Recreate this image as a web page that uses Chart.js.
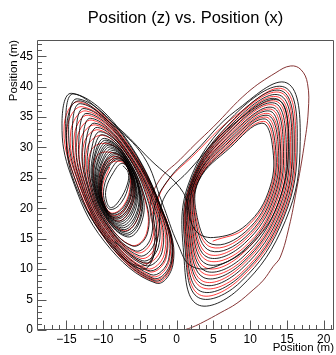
<!DOCTYPE html>
<html><head><meta charset="utf-8">
<script src="https://cdn.jsdelivr.net/npm/chart.js@4.4.0/dist/chart.umd.min.js"></script>
<style>html,body{margin:0;padding:0;background:#fff;}canvas{display:block;}</style>
</head><body>
<canvas id="c" width="336" height="355"></canvas>
<script>
// ---- tick labels ----
const xTickValues = [-15, -10, -5, 0, 5, 10, 15, 20];
const zTickValues = [0, 5, 10, 15, 20, 25, 30, 35, 40, 45];
const titleText = 'Position (z) vs. Position (x)';
const axisLabel = 'Position (m)';

// ---- series values: [x, z] ----
// initial transient (shared by both runs)
const transient = [[1.0,0.0],[2.2,0.5],[3.6,1.3],[5.9,2.8],[8.2,4.4],[10.4,6.6],[11.8,8.2],[13.1,10.4],[14.1,12.0],[15.3,17.0],[16.3,23.0],[17.3,30.0],[17.9,36.0],[17.8,40.5],[16.9,42.8],[15.5,43.4],[13.5,42.3],[9.6,39.0],[5.0,33.4],[2.5,30.5],[0.45,28.0],[-2.3,24.7],[-3.6,20.5],[-3.0,14.5],[-4.3,10.6],[-8.0,12.5],[-12.0,19.5]];

// black run: left wing loops (spiralling out from the hole)
const blackLeft = [
[-7.3,27.0],[-6.6,25.9],[-6.7,24.0],[-7.8,21.3],[-8.9,20.1],[-9.5,21.0],[-9.6,23.2],[-8.6,25.9],
[-7.45,27.4],[-6.5,26.2],[-6.5,24.0],[-7.5,21.0],[-8.9,19.8],[-9.7,20.8],[-9.9,23.4],[-8.9,26.4],
[-7.7,27.9],[-6.6,26.5],[-6.2,24.0],[-7.0,20.6],[-8.7,19.1],[-9.8,20.5],[-10.2,23.6],[-9.2,26.9],
[-7.8,28.1],[-6.7,26.7],[-6.1,23.8],[-6.9,20.4],[-8.5,18.9],[-9.8,20.4],[-10.3,23.6],[-9.3,27.0],
[-7.9,28.3],[-6.7,26.8],[-6.0,23.7],[-6.8,20.2],[-8.4,18.6],[-9.8,20.3],[-10.3,23.7],[-9.4,27.2],
[-8.1,28.5],[-6.7,26.9],[-5.9,23.6],[-6.6,20.0],[-8.3,18.4],[-9.8,20.2],[-10.4,23.7],[-9.6,27.3],
[-8.2,28.8],[-6.7,27.0],[-5.8,23.5],[-6.5,19.8],[-8.2,18.2],[-9.8,20.0],[-10.5,23.7],[-9.7,27.5],
[-8.3,29.0],[-6.7,27.2],[-5.7,23.3],[-6.4,19.6],[-8.0,17.9],[-9.8,19.9],[-10.6,23.8],[-9.8,27.6],
[-8.5,29.2],[-6.7,27.3],[-5.6,23.2],[-6.2,19.4],[-7.9,17.7],[-9.8,19.8],[-10.7,23.8],[-10.0,27.8],
[-8.6,29.5],[-6.8,27.5],[-5.5,23.0],[-6.1,19.1],[-7.8,17.4],[-9.7,19.6],[-10.8,23.9],[-10.1,28.0],
[-8.8,29.8],[-6.8,27.6],[-5.4,22.9],[-5.9,18.9],[-7.6,17.1],[-9.7,19.4],[-10.9,23.9],[-10.3,28.2],
[-9.0,30.1],[-6.8,27.8],[-5.2,22.7],[-5.7,18.6],[-7.5,16.8],[-9.7,19.3],[-11.0,24.0],[-10.5,28.3],
[-9.1,30.4],[-6.8,27.9],[-5.1,22.6],[-5.6,18.3],[-7.3,16.5],[-9.7,19.1],[-11.1,24.0],[-10.6,28.5],
[-9.3,30.6],[-6.9,28.1],[-5.0,22.4],[-5.4,18.1],[-7.2,16.2],[-9.7,18.9],[-11.2,24.1],[-10.8,28.7],
[-9.4,30.9],[-6.9,28.2],[-4.9,22.3],[-5.2,17.8],[-7.0,15.9],[-9.7,18.8],[-11.3,24.1],[-11.0,28.9],
[-9.6,31.2],[-6.9,28.4],[-4.8,22.1],[-5.1,17.6],[-6.9,15.6],[-9.7,18.6],[-11.4,24.2],[-11.1,29.1],
[-9.8,31.5],[-6.9,28.5],[-4.6,22.0],[-4.9,17.3],[-6.7,15.3],[-9.7,18.5],[-11.5,24.2],[-11.3,29.3],
[-10.1,32.1],[-7.0,28.8],[-4.2,21.2],[-4.0,15.8],[-6.0,13.8],[-9.7,18.1],[-11.7,24.3],[-11.6,29.6],
[-10.4,32.6],[-7.0,29.2],[-3.8,20.8],[-3.5,15.2],[-5.6,13.0],[-9.7,17.8],[-11.9,24.4],[-12.0,30.0],
[-10.8,33.3],[-7.1,29.5],[-3.3,20.3],[-3.0,14.4],[-5.1,12.2],[-9.6,17.4],[-12.2,24.5],[-12.4,30.4],
[-11.2,34.0],[-7.1,29.9],[-2.9,19.9],[-2.5,13.6],[-4.7,11.4],[-9.6,17.0],[-12.4,24.7],[-12.8,30.9],
[-11.7,34.8],[-7.2,30.3],[-2.5,19.4],[-2.0,12.8],[-4.3,10.6],[-9.6,16.6],[-12.7,24.8],[-13.3,31.4],
[-12.2,35.6],[-7.2,30.8],[-2.1,19.0],[-1.5,12.1],[-3.9,9.8],[-9.6,16.1],[-13.0,24.9],[-13.7,31.9],
[-12.6,36.4],[-7.3,31.2],[-1.8,18.7],[-1.1,11.6],[-3.5,9.1],[-9.6,15.7],[-13.3,25.1],[-14.2,32.4],
[-13.1,37.2],[-7.4,31.6],[-1.6,18.4],[-0.8,11.2],[-3.2,8.5],[-9.5,15.2],[-13.6,25.2],[-14.7,33.0],
[-13.5,38.0],[-7.4,32.1],[-1.5,18.2],[-0.7,11.0],[-3.0,8.1],[-9.6,14.8],[-14.0,25.4],[-15.1,33.5],
[-14.0,38.8],[-7.5,32.5],[-1.4,18.0],[-0.5,10.8],[-2.8,7.7],[-9.8,14.5],[-14.4,25.5],[-15.6,34.0]];
// black run: crossing from the left wing into the right wing
const blackCrossLR = [[-14.3,38.9],[-8.1,33.4],[-3.6,28.0],[0.9,22.6],[2.4,16.6]];
// black run: right wing loops
const blackRight = [
[5.0,15.2],[9.5,17.3],[12.7,23.5],[13.0,30.5],[11.6,34.0],[7.3,30.0],[3.0,24.5],[2.8,18.5],
[4.8,14.1],[9.4,16.2],[12.9,23.0],[13.4,30.5],[11.9,34.7],[7.4,30.6],[2.9,24.4],[2.6,17.8],
[4.6,13.0],[9.3,15.2],[13.1,22.4],[13.8,30.6],[12.3,35.3],[7.4,31.2],[2.7,24.4],[2.4,17.0],
[4.3,11.9],[9.2,14.2],[13.3,21.9],[14.1,30.6],[12.6,36.0],[7.5,31.8],[2.5,24.4],[2.2,16.2],
[4.1,10.8],[9.1,13.1],[13.5,21.3],[14.5,30.7],[13.0,36.6],[7.6,32.4],[2.4,24.3],[2.0,15.5],
[3.9,9.7],[9.0,12.0],[13.8,20.8],[14.9,30.8],[13.3,37.3],[7.6,33.0],[2.2,24.2],[1.8,14.8],
[3.7,8.6],[8.9,11.0],[14.0,20.2],[15.3,30.8],[13.6,38.0],[7.7,33.6],[2.1,24.2],[1.6,14.0],
[3.5,7.5],[8.8,10.0],[14.2,19.6],[15.7,30.8],[14.0,38.6],[7.8,34.2],[2.0,24.2],[1.4,13.2],
[3.2,6.4],[8.7,8.9],[14.4,19.1],[16.0,30.9],[14.3,39.3],[7.9,34.8],[1.8,24.1],[1.2,12.5],
[3.0,5.3],[8.6,7.8],[14.6,18.6],[16.4,31.0],[14.7,39.9],[7.9,35.4],[1.6,24.0],[1.0,11.8],
[2.8,4.2],[8.5,6.8],[14.8,18.0],[16.8,31.0],[15.0,40.6],[8.0,36.0]];
// black run: crossings back and forth through the middle
const blackCrossRL = [[2.6,29.4],[-1.2,24.6],[-3.1,19.8],[-2.8,13.8],[-4.6,10.0],[-9.3,14.6],[-13.5,23.0],[-15.0,31.5],[-13.6,37.6],[-9.0,34.0],[-4.5,28.5],
[-2.0,21.0],[0.2,14.0],[2.0,10.5],[5.5,10.5],[10.5,14.5],[14.0,21.5],[15.2,31.0],[13.8,37.8],[7.7,33.8],[1.5,26.0],[-1.8,21.5],[-2.6,15.0],[-4.0,11.0],[-8.5,14.5]];

// red run: right wing loops
const redRight = [
[4.9,14.6],[9.4,16.8],[12.8,23.2],[13.2,30.5],[11.8,34.3],[7.3,30.3],[2.9,24.5],[2.7,18.1],
[4.7,13.6],[9.3,15.7],[13.0,22.7],[13.6,30.6],[12.1,35.0],[7.4,30.9],[2.8,24.4],[2.5,17.4],
[4.4,12.4],[9.2,14.7],[13.2,22.1],[14.0,30.6],[12.4,35.6],[7.5,31.5],[2.6,24.4],[2.3,16.6],
[4.2,11.4],[9.2,13.6],[13.4,21.6],[14.3,30.7],[12.8,36.3],[7.5,32.1],[2.5,24.3],[2.1,15.9],
[4.0,10.2],[9.0,12.6],[13.6,21.0],[14.7,30.7],[13.1,37.0],[7.6,32.7],[2.3,24.3],[1.9,15.1],
[3.8,9.2],[9.0,11.5],[13.9,20.5],[15.1,30.8],[13.5,37.6],[7.7,33.3],[2.2,24.2],[1.7,14.4],
[3.6,8.0],[8.8,10.5],[14.1,19.9],[15.5,30.8],[13.8,38.3],[7.8,33.9],[2.0,24.2],[1.5,13.6],
[3.4,7.0],[8.8,9.4],[14.3,19.4],[15.8,30.9],[14.2,39.0],[7.8,34.5],[1.9,24.1],[1.3,12.9],
[3.1,5.8],[8.6,8.4],[14.5,18.8],[16.2,30.9],[14.5,39.6],[7.9,35.1]];
// red run: crossing into the left wing
const redCross = [[2.2,28.6],[-1.4,24.2],[-2.6,20.4]];
// red run: left wing loops (winding in towards the hole)
const redLeft = [
[-1.4,18.1],[-0.6,10.9],[-2.9,7.9],[-9.5,14.6],[-14.0,25.4],[-15.3,33.7],
[-13.3,37.5],[-7.4,31.8],[-1.5,18.3],[-0.7,11.1],[-3.1,8.3],[-9.5,15.0],[-13.7,25.3],[-14.9,33.2],
[-12.8,36.7],[-7.3,31.4],[-1.7,18.5],[-1.0,11.4],[-3.4,8.8],[-9.6,15.5],[-13.4,25.1],[-14.4,32.7],
[-12.3,36.0],[-7.3,31.0],[-2.0,18.9],[-1.4,11.9],[-3.8,9.6],[-9.6,15.9],[-13.2,25.0],[-13.9,32.2],
[-12.0,35.3],[-7.2,30.6],[-2.3,19.2],[-1.7,12.4],[-4.1,10.1],[-9.6,16.3],[-12.9,24.9],[-13.5,31.7],
[-11.5,34.5],[-7.2,30.1],[-2.7,19.6],[-2.2,13.2],[-4.5,11.0],[-9.6,16.8],[-12.6,24.7],[-13.1,31.2],
[-11.0,33.7],[-7.1,29.7],[-3.1,20.1],[-2.8,14.0],[-4.9,11.8],[-9.6,17.2],[-12.3,24.6],[-12.6,30.7],
[-10.6,32.9],[-7.0,29.3],[-3.6,20.6],[-3.3,14.9],[-5.4,12.7],[-9.7,17.7],[-12.0,24.5],[-12.1,30.2],
[-10.0,32.0],[-7.0,28.8],[-4.3,21.3],[-4.1,15.9],[-6.1,13.9],[-9.7,18.2],[-11.7,24.3],[-11.6,29.6],
[-9.2,30.6],[-6.9,28.0],[-5.0,22.5],[-5.4,18.1],[-7.2,16.3],[-9.7,19.0],[-11.2,24.1],[-10.8,28.7],
[-8.3,29.0],[-6.7,27.2],[-5.7,23.3],[-6.4,19.6],[-8.0,17.9],[-9.8,19.9],[-10.6,23.8],[-9.8,27.6],
[-8.1,28.5],[-6.7,26.9],[-5.9,23.6],[-6.6,20.0],[-8.3,18.4],[-9.8,20.2],[-10.4,23.7],[-9.6,27.3],
[-7.9,28.2],[-6.7,26.7],[-6.1,23.8],[-6.8,20.3],[-8.5,18.8],[-9.8,20.3],[-10.3,23.6],[-9.4,27.1],
[-7.6,27.7],[-6.6,26.5],[-6.3,24.0],[-7.1,20.7],[-8.7,19.2],[-9.8,20.6],[-10.1,23.6],[-9.1,26.8]];

// ---- build the library's data from the arrays ----
const toPts = a => a.map(p => ({x: p[0], y: p[1]}));
const blackPath = [].concat(blackLeft, blackCrossLR, blackRight, blackCrossRL);
const redPath = [].concat(redRight, redCross, redLeft);

const FONT = "'Liberation Sans', Arial, Helvetica, sans-serif";
Chart.defaults.font.family = FONT;
Chart.defaults.color = '#000';

const lineDs = (pts, color, w) => ({data: toPts(pts), borderColor: color, borderWidth: w, showLine: true,
  pointRadius: 0, pointHoverRadius: 0, tension: 0.4, fill: false});

const fmt = v => (v < 0 ? '\u2212' + Math.abs(v) : String(v));

const framePlugin = {
  id: 'rootFrame',
  afterDraw(chart) {
    const {ctx, chartArea: a, scales: {x, y}} = chart;
    const L = Math.round(a.left) + 0.5, R = Math.round(a.right) - 0.5;
    const T = Math.round(a.top) + 0.5, B = Math.round(a.bottom) - 0.5;
    ctx.save();
    ctx.strokeStyle = '#555';
    ctx.lineWidth = 1;
    ctx.beginPath();
    ctx.rect(L, T, R - L, B - T);
    ctx.stroke();
    ctx.beginPath();
    for (let v = Math.ceil(x.min); v <= Math.floor(x.max); v++) {
      const px = Math.round(x.getPixelForValue(v)) + 0.5;
      const len = (v % 5 === 0) ? 9 : 4.5;
      ctx.moveTo(px, B); ctx.lineTo(px, B - len);
    }
    for (let v = Math.ceil(y.min); v <= Math.floor(y.max); v++) {
      const py = Math.round(y.getPixelForValue(v)) + 0.5;
      const len = (v % 5 === 0) ? 9 : 4.5;
      ctx.moveTo(L, py); ctx.lineTo(L + len, py);
    }
    ctx.stroke();
    ctx.restore();
  }
};

new Chart(document.getElementById('c'), {
  type: 'scatter',
  data: {datasets: [
    lineDs(blackPath, 'rgba(0,0,0,0.85)', 1.0),
    lineDs(transient, 'rgb(120,30,30)', 0.9),
    lineDs(redPath, 'rgba(255,0,0,0.85)', 0.9)
  ]},
  options: {
    responsive: false, animation: false, devicePixelRatio: 1,
    events: [],
    layout: {padding: {left: 0, right: 2, top: 0, bottom: 0}},
    plugins: {
      legend: {display: false},
      tooltip: {enabled: false},
      title: {display: true, text: titleText, fullSize: false, color: '#000',
        font: {family: FONT, size: 16.5, weight: 'normal'}, padding: {top: 9, bottom: 11}}
    },
    scales: {
      x: {
        type: 'linear', position: 'bottom', min: -19.0, max: 21.4,
        grid: {display: false, drawTicks: false}, border: {display: false},
        afterBuildTicks: s => { s.ticks = xTickValues.map(v => ({value: v})); },
        afterFit: s => { s.height = 25; },
        ticks: {padding: 2, color: '#000', autoSkip: false, maxRotation: 0, font: {size: 12}, callback: v => fmt(v)},
        title: {display: true, text: axisLabel, align: 'end', color: '#000', font: {size: 11.5}, padding: {top: 0, bottom: 0}}
      },
      y: {
        type: 'linear', position: 'left', min: 0, max: 47.7,
        grid: {display: false, drawTicks: false}, border: {display: false},
        afterBuildTicks: s => { s.ticks = zTickValues.map(v => ({value: v})); },
        afterFit: s => { s.width = 37; },
        ticks: {padding: 4, color: '#000', autoSkip: false, font: {size: 12}, callback: v => fmt(v)},
        title: {display: true, text: axisLabel, align: 'end', color: '#000', font: {size: 11.5}, padding: {top: 7, bottom: 0}}
      }
    }
  },
  plugins: [framePlugin]
});
</script>
</body></html>
